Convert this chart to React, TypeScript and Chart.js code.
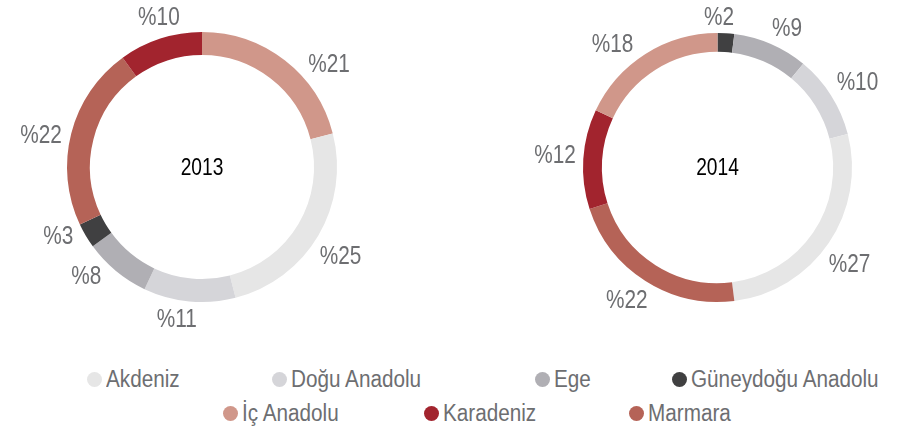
import React, { useEffect, useRef } from "react";
import { Chart, registerables } from "chart.js";

Chart.register(...registerables);

// Legend order and colours
const regions = ["Akdeniz", "Doğu Anadolu", "Ege", "Güneydoğu Anadolu", "İç Anadolu", "Karadeniz", "Marmara"];
const regionColors = ["#e6e6e6", "#d5d5d9", "#b0afb4", "#404041", "#d0978a", "#a2242e", "#b56357"];

// Slices, clockwise from 12 o'clock
const order2013 = ["İç Anadolu", "Akdeniz", "Doğu Anadolu", "Ege", "Güneydoğu Anadolu", "Marmara", "Karadeniz"];
const values2013 = [21, 25, 11, 8, 3, 22, 10];
const order2014 = ["Güneydoğu Anadolu", "Ege", "Doğu Anadolu", "Akdeniz", "Marmara", "Karadeniz", "İç Anadolu"];
const values2014 = [2, 9, 10, 27, 22, 12, 18];

// label placement tweaks (degrees along the ring), layout only
const labelShift2013 = [13, 2, 4, 7, 5, -3, 2];
const labelShift2014 = [-3, 3, 1, 2, 2, 1, -8];

const FONT_FAMILY = "'Liberation Sans', Arial, sans-serif";
const NARROW = 0.8;
const TEXT_GRAY = "#6d6e71";

const colorOf = (r: string) => regionColors[regions.indexOf(r)];

const labelPlugin = {
  id: "outerLabels",
  afterDatasetsDraw(chart: any) {
    const ctx = chart.ctx;
    const meta = chart.getDatasetMeta(0);
    const data = chart.data.datasets[0].data;
    const opts = chart.options.plugins.centerTitle;
    const shifts: number[] = opts.shifts || [];
    ctx.save();
    ctx.font = "26px " + FONT_FAMILY;
    ctx.fillStyle = TEXT_GRAY;
    ctx.textAlign = "center";
    ctx.textBaseline = "middle";
    meta.data.forEach((arc: any, i: number) => {
      const p = arc.getProps(["x", "y", "startAngle", "endAngle", "outerRadius"], true);
      const mid = (p.startAngle + p.endAngle) / 2 + ((shifts[i] || 0) * Math.PI) / 180;
      const text = "%" + data[i];
      const w = ctx.measureText(text).width * NARROW;
      const h = 18;
      const c = Math.cos(mid), s = Math.sin(mid);
      const dist = p.outerRadius + 7 + (Math.abs(c) * w) / 2 + (Math.abs(s) * h) / 2;
      const x = p.x + c * dist;
      const y = p.y + s * dist + 1;
      ctx.save();
      ctx.translate(x, y);
      ctx.scale(NARROW, 1);
      ctx.fillText(text, 0, 0);
      ctx.restore();
    });
    const a = meta.data[0];
    if (a) {
      const p = a.getProps(["x", "y"], true);
      ctx.font = "24px " + FONT_FAMILY;
      ctx.fillStyle = "#000";
      ctx.translate(p.x, p.y + 1);
      ctx.scale(NARROW, 1);
      ctx.fillText(opts.text, 0, 0);
    }
    ctx.restore();
  },
};

function Donut(props: {
  labels: string[];
  values: number[];
  title: string;
  shifts: number[];
  cutout: string;
  padding: any;
  left: number;
  width: number;
  height: number;
}) {
  const ref = useRef<HTMLCanvasElement>(null);
  useEffect(() => {
    const chart = new Chart(ref.current as HTMLCanvasElement, {
      type: "doughnut",
      data: {
        labels: props.labels,
        datasets: [
          {
            data: props.values,
            backgroundColor: props.labels.map(colorOf),
            borderWidth: 0,
          },
        ],
      },
      options: {
        responsive: false,
        animation: false,
        devicePixelRatio: 1,
        cutout: props.cutout,
        layout: { padding: props.padding },
        plugins: {
          legend: { display: false },
          tooltip: { enabled: false },
          centerTitle: { text: props.title, shifts: props.shifts },
        } as any,
      },
      plugins: [labelPlugin],
    });
    return () => chart.destroy();
  }, []);
  return (
    <canvas
      ref={ref}
      width={props.width}
      height={props.height}
      style={{ position: "absolute", left: props.left, top: 0, width: props.width, height: props.height }}
    />
  );
}

const legendLayout = [
  { left: 87, top: 379 },
  { left: 272, top: 379 },
  { left: 535, top: 379 },
  { left: 672, top: 379 },
  { left: 223, top: 413 },
  { left: 424, top: 413 },
  { left: 629, top: 413 },
];

export default function App() {
  useEffect(() => {
    document.body.style.margin = "0";
  }, []);
  return (
    <div style={{ position: "relative", width: 910, height: 433, background: "#fff", overflow: "hidden" }}>
      <Donut
        labels={order2013}
        values={values2013}
        title="2013"
        shifts={labelShift2013}
        cutout="83%"
        padding={{ left: 67, right: 67, top: 32, bottom: 32 }}
        left={0}
        width={404}
        height={334}
      />
      <Donut
        labels={order2014}
        values={values2014}
        title="2014"
        shifts={labelShift2014}
        cutout="86%"
        padding={{ left: 83, right: 58, top: 33, bottom: 32 }}
        left={500}
        width={410}
        height={334}
      />
      {regions.map((r, i) => (
        <div
          key={r}
          style={{
            position: "absolute",
            left: legendLayout[i].left,
            top: legendLayout[i].top - 15,
            height: 30,
            display: "flex",
            alignItems: "center",
            whiteSpace: "nowrap",
            fontFamily: FONT_FAMILY,
            fontSize: 23,
            color: TEXT_GRAY,
          }}
        >
          <span
            style={{
              display: "inline-block",
              flex: "0 0 auto",
              width: 15,
              height: 15,
              borderRadius: "50%",
              background: regionColors[i],
              marginRight: 4,
            }}
          />
          <span style={{ display: "inline-block", transform: "scaleX(0.9)", transformOrigin: "left center" }}>
            {regions[i]}
          </span>
        </div>
      ))}
    </div>
  );
}
